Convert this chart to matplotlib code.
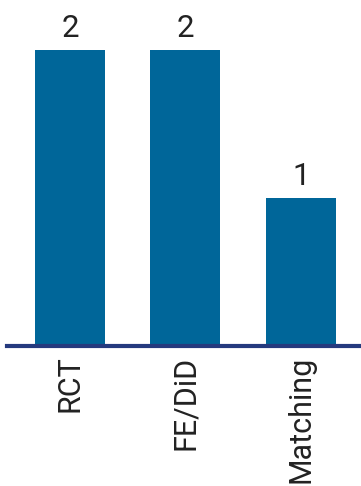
import matplotlib
matplotlib.use("Agg")
import matplotlib.pyplot as plt

categories = ["RCT", "FE/DiD", "Matching"]
counts = [2, 2, 1]

plt.rcParams["font.family"] = ["Roboto", "DejaVu Sans"]

fig = plt.figure(figsize=(3.61, 4.86), dpi=100)
ax = fig.add_axes([7 / 361, 140 / 486, 354 / 361, 346 / 486])

x = list(range(len(categories)))
bars = ax.bar(x, counts, width=0.606, color="#006699")

for xi, v in zip(x, counts):
    ax.annotate(str(v), (xi, v), xytext=(0, 5), textcoords="offset points",
                ha="center", va="bottom", fontsize=22.5, color="#222222")

ax.set_xlim(-0.545, 2.52)
ax.set_ylim(0, 2.338)
ax.set_xticks(x)
ax.set_xticklabels(categories, rotation=90, fontsize=22, color="#222222")
ax.tick_params(axis="x", length=0, pad=7)
ax.set_yticks([])

for s in ["top", "right", "left"]:
    ax.spines[s].set_visible(False)
ax.spines["bottom"].set_color("#253a7e")
ax.spines["bottom"].set_linewidth(3)

fig.savefig("out.png", dpi=100)
